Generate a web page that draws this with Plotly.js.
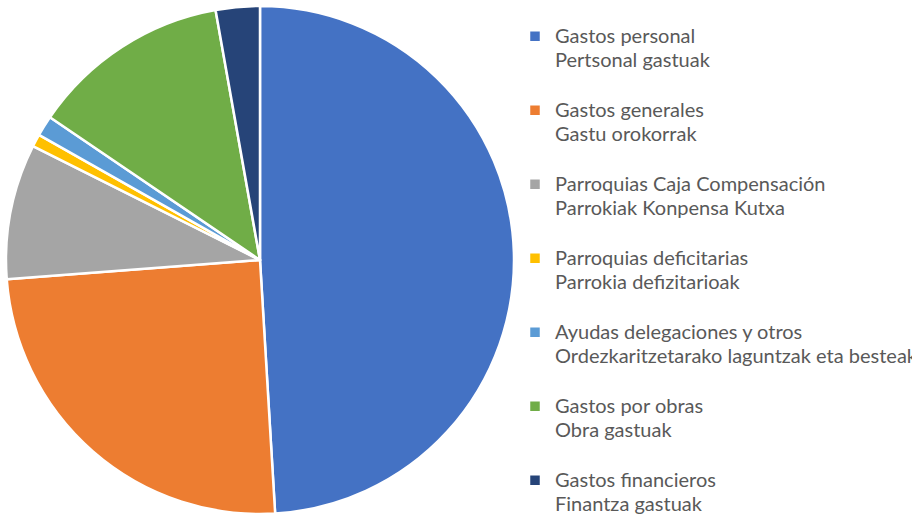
<!DOCTYPE html>
<html>
<head>
<meta charset="utf-8">
<script src="https://cdn.plot.ly/plotly-3.0.1.min.js"></script>
<style>html,body{margin:0;padding:0;background:#fff;}#chart{width:912px;height:516px;}</style>
</head>
<body>
<div id="chart"></div>
<script>
// Categories (Spanish / Basque)
const labelsEs = ["Gastos personal", "Gastos generales", "Parroquias Caja Compensación", "Parroquias deficitarias", "Ayudas delegaciones y otros", "Gastos por obras", "Gastos financieros"];
const labelsEu = ["Pertsonal gastuak", "Gastu orokorrak", "Parrokiak Konpensa Kutxa", "Parrokia defizitarioak", "Ordezkaritzetarako laguntzak eta besteak", "Obra gastuak", "Finantza gastuak"];
// Share of total (%)
const values = [49.05, 24.75, 8.6, 0.8, 1.3, 12.7, 2.8];
const colors = ["#4472C4", "#ED7D31", "#A5A5A5", "#FFC000", "#5B9BD5", "#70AD47", "#264478"];

const span = s => "<span style='font-size:20px'>" + s + "</span>";
const labels = labelsEs.map((s, i) => span(s) + "<br>" + span(labelsEu[i]) + "<br>&nbsp;");

const W = 912, H = 516;
const trace = {
  type: "pie",
  labels: labels,
  values: values,
  sort: false,
  direction: "clockwise",
  rotation: 0,
  textinfo: "none",
  hoverinfo: "label+percent",
  marker: { colors: colors, line: { color: "#ffffff", width: 2.5 } },
  domain: { x: [6 / W, 514 / W], y: [2 / H, 510 / H] }
};

const layout = {
  width: W, height: H,
  margin: { l: 0, r: 0, t: 0, b: 0, autoexpand: false },
  paper_bgcolor: "#ffffff",
  showlegend: true,
  legend: {
    x: 515 / W, xanchor: "left",
    y: (H - 18) / H, yanchor: "top",
    valign: "top",
    maxheight: 2000,
    font: { family: "Lato, 'Open Sans', sans-serif", size: 18.2, color: "#595959" },
    bgcolor: "rgba(0,0,0,0)",
    traceorder: "normal"
  }
};

Plotly.newPlot("chart", [trace], layout, { displayModeBar: false, staticPlot: true });
</script>
</body>
</html>
